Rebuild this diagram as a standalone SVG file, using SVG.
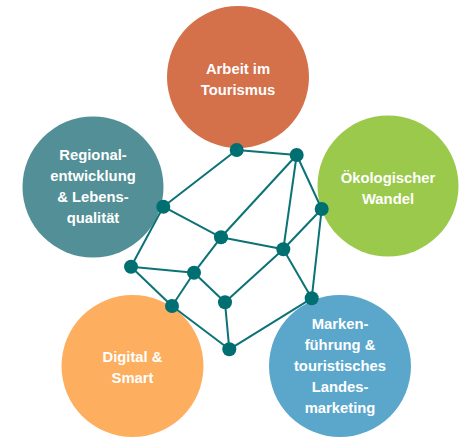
<svg xmlns="http://www.w3.org/2000/svg" width="460" height="447" viewBox="0 0 460 447">
<style>
.t{font-family:"Liberation Sans",Arial,sans-serif;font-weight:bold;font-size:14.8px;fill:#fff;text-anchor:middle}
.e{stroke:#0b7276;stroke-width:2;fill:none}
.n{fill:#006f72}
</style>
<rect width="460" height="447" fill="#fff"/>
<g id="arbeit"><circle cx="238" cy="77" r="71" fill="#d4704a"/><text class="t" x="238" y="74">Arbeit im</text><text class="t" x="238" y="95">Tourismus</text></g>
<g id="regional"><circle cx="93" cy="187" r="70.5" fill="#528f96"/><text class="t" x="93" y="160">Regional-</text><text class="t" x="93" y="181">entwicklung</text><text class="t" x="93" y="202">&amp; Lebens-</text><text class="t" x="93" y="223">qualität</text></g>
<g id="oekologisch"><circle cx="388" cy="186" r="70.5" fill="#9bc94b"/><text class="t" x="388" y="183">Ökologischer</text><text class="t" x="388" y="204">Wandel</text></g>
<g id="digital"><circle cx="132.5" cy="366" r="71" fill="#fdae5e"/><text class="t" x="132.5" y="362">Digital &amp;</text><text class="t" x="132.5" y="383">Smart</text></g>
<g id="marken"><circle cx="340" cy="366" r="71" fill="#5ba7cc"/><text class="t" x="340" y="329">Marken-</text><text class="t" x="340" y="350">führung &amp;</text><text class="t" x="340" y="371">touristisches</text><text class="t" x="340" y="392">Landes-</text><text class="t" x="340" y="413">marketing</text></g>
<g id="connectors" class="e">
<line x1="236.7" y1="150" x2="296.7" y2="155"/>
<line x1="236.7" y1="150" x2="163.3" y2="206.7"/>
<line x1="296.7" y1="155" x2="221" y2="237.3"/>
<line x1="296.7" y1="155" x2="283.3" y2="249.3"/>
<line x1="296.7" y1="155" x2="321.7" y2="209"/>
<line x1="163.3" y1="206.7" x2="221" y2="237.3"/>
<line x1="163.3" y1="206.7" x2="131" y2="266.7"/>
<line x1="321.7" y1="209" x2="283.3" y2="249.3"/>
<line x1="321.7" y1="209" x2="311.7" y2="298.3"/>
<line x1="221" y1="237.3" x2="283.3" y2="249.3"/>
<line x1="221" y1="237.3" x2="194" y2="272.7"/>
<line x1="283.3" y1="249.3" x2="225" y2="302.3"/>
<line x1="283.3" y1="249.3" x2="311.7" y2="298.3"/>
<line x1="131" y1="266.7" x2="194" y2="272.7"/>
<line x1="131" y1="266.7" x2="172" y2="306"/>
<line x1="172" y1="306" x2="229.3" y2="349.3"/>
<line x1="194" y1="272.7" x2="172" y2="306"/>
<line x1="194" y1="272.7" x2="225" y2="302.3"/>
<line x1="225" y1="302.3" x2="229.3" y2="349.3"/>
<line x1="311.7" y1="298.3" x2="229.3" y2="349.3"/>
</g>
<g id="nodes" class="n">
<circle id="nA" cx="236.7" cy="150" r="7"/>
<circle id="nB" cx="296.7" cy="155" r="7"/>
<circle id="nC" cx="163.3" cy="206.7" r="7"/>
<circle id="nD" cx="321.7" cy="209" r="7"/>
<circle id="nE" cx="221" cy="237.3" r="7"/>
<circle id="nF" cx="283.3" cy="249.3" r="7"/>
<circle id="nG" cx="131" cy="266.7" r="7"/>
<circle id="nH" cx="194" cy="272.7" r="7"/>
<circle id="nI" cx="172" cy="306" r="7"/>
<circle id="nJ" cx="225" cy="302.3" r="7"/>
<circle id="nK" cx="311.7" cy="298.3" r="7"/>
<circle id="nL" cx="229.3" cy="349.3" r="7"/>
</g>
</svg>
